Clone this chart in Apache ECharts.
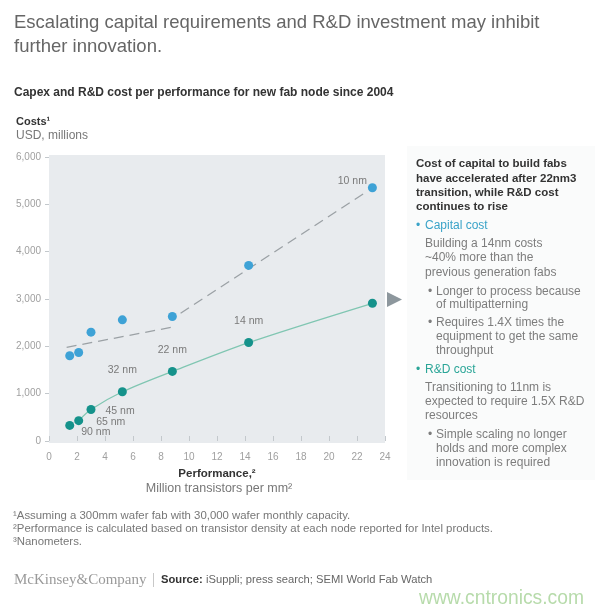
<!DOCTYPE html>
<html>
<head>
<meta charset="utf-8">
<script src="https://cdn.jsdelivr.net/npm/echarts@6/dist/echarts.min.js"></script>
<style>
html,body{margin:0;padding:0;background:#fff;}
#main{width:601px;height:614px;}
</style>
</head>
<body>
<div id="main"></div>
<script>
// ---- data ----
var perf = [1.48, 2.12, 3.0, 5.24, 8.81, 14.26, 23.1];          // million transistors per mm2
var capitalCost = [1800, 1870, 2300, 2560, 2630, 3710, 5350];   // USD millions
var rdCost = [330, 430, 665, 1040, 1470, 2080, 2910];           // USD millions
var nodeLabels = ['90 nm', '65 nm', '45 nm', '32 nm', '22 nm', '14 nm', '10 nm'];
var trend1X = [1.26, 8.71], trend1Y = [1980, 2400];
var trend2X = [9.4, 22.7], trend2Y = [2700, 5270];
var xTicks = [0, 2, 4, 6, 8, 10, 12, 14, 16, 18, 20, 22, 24];
var yTicks = [0, 1000, 2000, 3000, 4000, 5000, 6000];

var FONT = '"Liberation Sans", Arial, sans-serif';
var BLUE = '#3ea2d6', TEAL = '#15928b', TEAL_LINE = '#80c6b2', DASH = '#9ba1a5';

function pairs(xs, ys, from) {
  var out = [];
  for (var i = from || 0; i < xs.length; i++) out.push([xs[i], ys[i]]);
  return out;
}

var labelOffsets = [[7, 7], [13, 1], [10, 2], [0, -13], [0, -12], [0, -12]];
var rdData = perf.map(function (x, i) {
  var lbl = nodeLabels[i];
  var o = labelOffsets[i];
  var left = i < 3;
  return {
    value: [x, rdCost[i]],
    label: i < 6 ? {
      show: true, formatter: lbl, position: left ? 'right' : 'top',
      offset: left ? [o[0] - 5, o[1]] : [o[0], o[1] + 6],
      color: '#7a7a7a', fontSize: 10.5, fontFamily: FONT
    } : { show: false }
  };
});
var capData = perf.map(function (x, i) {
  return {
    value: [x, capitalCost[i]],
    label: i === 6 ? { show: true, formatter: nodeLabels[6], position: 'left', offset: [4, -7],
      color: '#7a7a7a', fontSize: 10.5, fontFamily: FONT } : { show: false }
  };
});

var chart = echarts.init(document.getElementById('main'), null, { renderer: 'canvas' });

function t(x, y, text, style) {
  var s = Object.assign({ text: text, fill: '#333', font: '12px ' + FONT, textVerticalAlign: 'middle' }, style || {});
  return { type: 'text', x: x, y: y, style: s, z: 10 };
}

var G = [];
// plot background
G.push({ type: 'rect', shape: { x: 49, y: 155, width: 336, height: 288 }, style: { fill: '#e8ebee' }, z: -10 });
// right panel background
G.push({ type: 'rect', shape: { x: 407, y: 146, width: 188, height: 334 }, style: { fill: '#fafbfb' }, z: -10 });
// arrow
G.push({ type: 'polygon', shape: { points: [[387, 292], [402, 299.5], [387, 307]] }, style: { fill: '#8d979d' }, z: 5 });

// titles
G.push(t(14, 23, 'Escalating capital requirements and R&D investment may inhibit', { fill: '#666', font: '18.5px ' + FONT }));
G.push(t(14, 47, 'further innovation.', { fill: '#666', font: '18.5px ' + FONT }));
G.push(t(14, 93, 'Capex and R&D cost per performance for new fab node since 2004', { fill: '#333', font: 'bold 12px ' + FONT }));
G.push(t(16, 122, 'Costs\u00b9', { fill: '#333', font: 'bold 11px ' + FONT }));
G.push(t(16, 136, 'USD, millions', { fill: '#777', font: '12px ' + FONT }));
G.push(t(217, 474, 'Performance,\u00b2', { fill: '#333', font: 'bold 11.5px ' + FONT, textAlign: 'center' }));
G.push(t(219, 489, 'Million transistors per mm\u00b2', { fill: '#777', font: '12.5px ' + FONT, textAlign: 'center' }));

// right panel
var PF = '12px ' + FONT;
var boldLines = ['Cost of capital to build fabs', 'have accelerated after 22nm3', 'transition, while R&D cost', 'continues to rise'];
var by = [164, 178.5, 192.5, 206.5];
boldLines.forEach(function (s, i) { G.push(t(416, by[i], s, { fill: '#333', font: 'bold 11.5px ' + FONT })); });
var GRAY = '#7d7d7d';
G.push(t(416, 226, '\u2022', { fill: '#3aa3c8', font: PF }));
G.push(t(425, 226, 'Capital cost', { fill: '#3aa3c8', font: PF }));
var body1 = [['Building a 14nm costs', 244], ['~40% more than the', 258], ['previous generation fabs', 272.5]];
body1.forEach(function (b) { G.push(t(425, b[1], b[0], { fill: GRAY, font: PF })); });
G.push(t(428, 291.5, '\u2022', { fill: GRAY, font: PF }));
G.push(t(436, 291.5, 'Longer to process because', { fill: GRAY, font: PF }));
G.push(t(436, 304.5, 'of multipatterning', { fill: GRAY, font: PF }));
G.push(t(428, 323, '\u2022', { fill: GRAY, font: PF }));
G.push(t(436, 323, 'Requires 1.4X times the', { fill: GRAY, font: PF }));
G.push(t(436, 337, 'equipment to get the same', { fill: GRAY, font: PF }));
G.push(t(436, 350.5, 'throughput', { fill: GRAY, font: PF }));
G.push(t(416, 370, '\u2022', { fill: '#2aa597', font: PF }));
G.push(t(425, 370, 'R&D cost', { fill: '#2aa597', font: PF }));
var body2 = [['Transitioning to 11nm is', 388], ['expected to require 1.5X R&D', 402], ['resources', 416]];
body2.forEach(function (b) { G.push(t(425, b[1], b[0], { fill: GRAY, font: PF })); });
G.push(t(428, 435, '\u2022', { fill: GRAY, font: PF }));
G.push(t(436, 435, 'Simple scaling no longer', { fill: GRAY, font: PF }));
G.push(t(436, 449, 'holds and more complex', { fill: GRAY, font: PF }));
G.push(t(436, 463, 'innovation is required', { fill: GRAY, font: PF }));

// footnotes
var FN = '11.4px ' + FONT;
G.push(t(13, 516, '\u00b9Assuming a 300mm wafer fab with 30,000 wafer monthly capacity.', { fill: '#777', font: FN }));
G.push(t(13, 529, '\u00b2Performance is calculated based on transistor density at each node reported for Intel products.', { fill: '#777', font: FN }));
G.push(t(13, 542, '\u00b3Nanometers.', { fill: '#777', font: FN }));
G.push(t(14, 580, 'McKinsey&Company', { fill: '#9a9a9a', font: '15px "Liberation Serif", serif' }));
G.push({ type: 'rect', shape: { x: 153, y: 573, width: 1, height: 14 }, style: { fill: '#c8c8c8' }, z: 10 });
G.push({ type: 'text', x: 161, y: 580, z: 10, style: {
  text: '{b|Source:} {r|iSuppli; press search; SEMI World Fab Watch}', textVerticalAlign: 'middle',
  rich: { b: { fontWeight: 'bold', fontSize: 11.2, fontFamily: FONT, fill: '#333', color: '#333' },
          r: { fontSize: 11.2, fontFamily: FONT, fill: '#666', color: '#666' } } } });
G.push(t(419, 599, 'www.cntronics.com', { fill: '#b7dbab', font: '19.3px ' + FONT }));

var option = {
  animation: false,
  backgroundColor: '#ffffff',
  grid: { left: 49, top: 157, width: 336, height: 284, containLabel: false },
  xAxis: {
    type: 'value', min: 0, max: 24, interval: 2,
    axisLine: { show: false },
    axisTick: { show: true, inside: true, length: 5, lineStyle: { color: '#c3c8cc' } },
    splitLine: { show: false },
    axisLabel: { color: '#a0a0a0', fontSize: 10, fontFamily: FONT, margin: 11,
      formatter: function (v) { return xTicks.indexOf(v) >= 0 ? String(v) : ''; } }
  },
  yAxis: {
    type: 'value', min: 0, max: 6000, interval: 1000,
    axisLine: { show: false },
    axisTick: { show: true, length: 4, lineStyle: { color: '#c3c8cc' } },
    splitLine: { show: false },
    axisLabel: { color: '#a0a0a0', fontSize: 10, fontFamily: FONT, margin: 8,
      formatter: function (v) { return yTicks.indexOf(v) >= 0 ? v.toLocaleString('en-US') : ''; } }
  },
  series: [
    { type: 'line', data: pairs(trend1X, trend1Y), symbol: 'none', z: 2,
      lineStyle: { color: DASH, width: 1.3, type: [10, 6] } },
    { type: 'line', data: pairs(trend2X, trend2Y), symbol: 'none', z: 2,
      lineStyle: { color: DASH, width: 1.3, type: [10, 6] } },
    { type: 'line', data: pairs(perf, rdCost, 1), symbol: 'none', smooth: 0.3, z: 2,
      lineStyle: { color: TEAL_LINE, width: 1.3 } },
    { type: 'scatter', data: capData, symbolSize: 9, z: 3, itemStyle: { color: BLUE, opacity: 1 } },
    { type: 'scatter', data: rdData, symbolSize: 9, z: 3, itemStyle: { color: TEAL, opacity: 1 } }
  ],
  graphic: G
};
chart.setOption(option);
</script>
</body>
</html>
